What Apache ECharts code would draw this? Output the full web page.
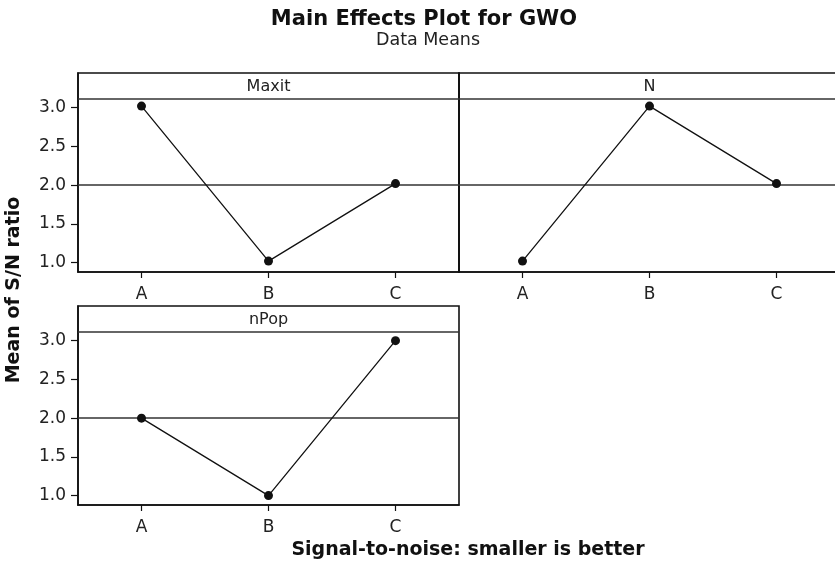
<!DOCTYPE html>
<html><head><meta charset="utf-8">
<script src="https://cdn.jsdelivr.net/npm/echarts@6/dist/echarts.min.js"></script>
<style>html,body{margin:0;padding:0;background:#fff}#c{width:835px;height:566px}</style>
</head><body><div id="c"></div>
<script>
// ---- data ----
const levels = ['A', 'B', 'C'];
const factorNames = ['Maxit', 'N', 'nPop'];
const maxitMeans = [3.02, 1.02, 2.02];
const nMeans = [1.02, 3.02, 2.02];
const nPopMeans = [2.0, 1.0, 3.0];
const overallMean = 2.0;
const yTickValues = [1.0, 1.5, 2.0, 2.5, 3.0];

// ---- layout ----
const FONT = 'DejaVu Sans';
const grids = [
  { left: 78, top: 73, width: 381, height: 199 },
  { left: 459, top: 73, width: 381, height: 199 },
  { left: 78, top: 306, width: 381, height: 199 }
];
const yMin = 0.879, yMax = 3.447, stripLevel = 3.114;
const seriesData = [maxitMeans, nMeans, nPopMeans];

const chart = echarts.init(document.getElementById('c'), null, { renderer: 'canvas' });

const xAxes = grids.map((g, i) => ({
  type: 'category', gridIndex: i, data: levels, boundaryGap: true,
  axisLine: { show: true, lineStyle: { color: '#111', width: 1.6 } },
  axisTick: { show: true, alignWithLabel: true, length: 6, lineStyle: { color: '#111', width: 1.2 } },
  axisLabel: { color: '#222', fontFamily: FONT, fontSize: 17, margin: 14 },
  splitLine: { show: false }
}));
const yAxes = grids.map((g, i) => ({
  type: 'value', gridIndex: i, min: yMin, max: yMax,
  axisLine: { show: true, lineStyle: { color: '#111', width: 1.6 } },
  axisTick: { show: i !== 1, length: 7, customValues: yTickValues, lineStyle: { color: '#111', width: 1.2 } },
  axisLabel: { show: i !== 1, customValues: yTickValues, color: '#222', fontFamily: FONT, fontSize: 17, margin: 12,
    formatter: v => v.toFixed(1) },
  splitLine: { show: false }
}));

const series = seriesData.map((d, i) => ({
  type: 'line', xAxisIndex: i, yAxisIndex: i, data: d,
  symbol: 'circle', symbolSize: 9,
  itemStyle: { color: '#111' },
  lineStyle: { color: '#111', width: 1.3 },
  z: 5,
  markLine: {
    silent: true, symbol: 'none', label: { show: false },
    lineStyle: { type: 'solid', color: '#333', width: 1.5 },
    data: [{ yAxis: overallMean }, { yAxis: stripLevel }]
  }
}));

const stripTitles = grids.map((g, i) => ({
  text: factorNames[i], left: g.left + g.width / 2, top: g.top + 6, textAlign: 'center', padding: 0,
  textStyle: { fontFamily: FONT, fontSize: 16, fontWeight: 'normal', color: '#222' }
}));

chart.setOption({
  backgroundColor: '#fff',
  animation: false,
  grid: grids.map(g => Object.assign({ show: true, borderColor: '#111', borderWidth: 1.6,
    backgroundColor: 'transparent', containLabel: false, outerBoundsMode: 'none' }, g)),
  xAxis: xAxes,
  yAxis: yAxes,
  series: series,
  title: [
    { text: 'Main Effects Plot for GWO', left: 424, top: 9, textAlign: 'center', padding: 0,
      textStyle: { fontFamily: FONT, fontSize: 21, fontWeight: 'bold', color: '#111' } },
    { text: 'Data Means', left: 428, top: 31, textAlign: 'center', padding: 0,
      textStyle: { fontFamily: FONT, fontSize: 17.5, fontWeight: 'normal', color: '#222' } },
    { text: 'Signal-to-noise: smaller is better', left: 468, top: 541, textAlign: 'center', padding: 0,
      textStyle: { fontFamily: FONT, fontSize: 19, fontWeight: 'bold', color: '#111' } }
  ].concat(stripTitles),
  graphic: [{
    type: 'text', x: 14, y: 290, rotation: Math.PI / 2,
    style: { text: 'Mean of S/N ratio', fill: '#111', font: 'bold 19px "DejaVu Sans"',
      textAlign: 'center', textVerticalAlign: 'middle' }
  }]
});
</script></body></html>
